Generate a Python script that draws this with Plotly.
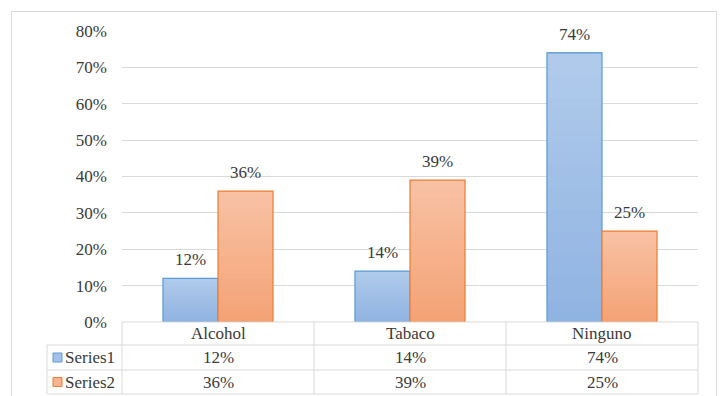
import plotly.graph_objects as go

# Data
categories = ["Alcohol", "Tabaco", "Ninguno"]
series_names = ["Series1", "Series2"]
series1 = [0.12, 0.14, 0.74]
series2 = [0.36, 0.39, 0.25]
y_ticks = [0, 0.1, 0.2, 0.3, 0.4, 0.5, 0.6, 0.7, 0.8]

W, H = 721, 396
PL, PR, PT, PB = 122, 698, 31, 322  # plot area in pixels
FONT = "'Times New Roman', 'Liberation Serif', 'DejaVu Serif', serif"
FS = 17
TXT = "#3a3a3a"
GRID = "#d9d9d9"

# gradient fills (bottom colour, top colour) and outline colour per series
grad = [("#8fb3e2", "#b1cbeb"), ("#f4a275", "#f8c2a5")]
fills = ["#a5c1e7", "#f6b491"]
edges = ["#5b9bd5", "#ed7d31"]
N_STEPS = 24


def px(xp):
    return (xp - PL) / (PR - PL)


def py(yp):
    return (PB - yp) / (PB - PT)


def hex_rgb(h):
    h = h.lstrip("#")
    return tuple(int(h[i:i + 2], 16) for i in (0, 2, 4))


def mix(c0, c1, t):
    a, b = hex_rgb(c0), hex_rgb(c1)
    return "rgb(%d,%d,%d)" % tuple(round(a[i] + (b[i] - a[i]) * t) for i in range(3))


fig = go.Figure()
values = [series1, series2]
for si, (name, vals) in enumerate(zip(series_names, values)):
    c_bot, c_top = grad[si]
    # vertical gradient: layered bars, each starting a little higher and
    # running to the top of the bar, so the slices never leave gaps
    for k in range(N_STEPS):
        t = (k + 0.5) / N_STEPS
        fig.add_trace(go.Bar(
            x=categories, y=[v * (1 - k / N_STEPS) for v in vals],
            base=[v * k / N_STEPS for v in vals],
            offsetgroup=str(si), name=name,
            marker=dict(color=mix(c_bot, c_top, t), line=dict(width=0)),
            hoverinfo="skip", showlegend=False,
        ))
    # outline
    fig.add_trace(go.Bar(
        x=categories, y=vals, offsetgroup=str(si), name=name,
        marker=dict(color="rgba(0,0,0,0)", line=dict(color=edges[si], width=1.2)),
        hoverinfo="skip", showlegend=False,
    ))

shapes = []
annotations = []

# value labels above the bars
n_series = len(values)
bar_px = 55
for si, vals in enumerate(values):
    offset = (si - (n_series - 1) / 2) * bar_px
    for c, v in zip(categories, vals):
        annotations.append(dict(
            x=c, y=v, xref="x", yref="y", text=f"{round(v * 100)}%",
            showarrow=False, xshift=offset, xanchor="center",
            yanchor="bottom", yshift=7,
            font=dict(family=FONT, size=FS, color=TXT),
        ))

# data table below the plot
line = dict(color=GRID, width=1)
row_y = [PB, 345, 370, 394]
col_w = (PR - PL) / len(categories)
col_x = [PL + i * col_w for i in range(len(categories) + 1)]
# horizontal rules
shapes.append(dict(type="line", xref="paper", yref="paper",
                   x0=px(PL), x1=px(PR), y0=py(row_y[0]), y1=py(row_y[0]), line=line))
for yy in row_y[1:]:
    shapes.append(dict(type="line", xref="paper", yref="paper",
                       x0=px(47), x1=px(PR), y0=py(yy), y1=py(yy), line=line))
# vertical rules
for xx in col_x:
    shapes.append(dict(type="line", xref="paper", yref="paper",
                       x0=px(xx), x1=px(xx), y0=py(row_y[0]), y1=py(row_y[-1]), line=line))
shapes.append(dict(type="line", xref="paper", yref="paper",
                   x0=px(47), x1=px(47), y0=py(row_y[1]), y1=py(row_y[-1]), line=line))

# header row: category names
for i, c in enumerate(categories):
    annotations.append(dict(
        x=px(col_x[i] + col_w / 2), y=py((row_y[0] + row_y[1]) / 2),
        xref="paper", yref="paper", text=c, showarrow=False,
        xanchor="center", yanchor="middle",
        font=dict(family=FONT, size=FS, color=TXT),
    ))
# series rows
for si, (name, vals) in enumerate(zip(series_names, values)):
    yc = (row_y[si + 1] + row_y[si + 2]) / 2
    shapes.append(dict(type="rect", xref="paper", yref="paper",
                       x0=px(53), x1=px(62), y0=py(yc - 4.5), y1=py(yc + 4.5),
                       fillcolor=fills[si], line=dict(color=edges[si], width=1)))
    annotations.append(dict(
        x=px(63), y=py(yc), xref="paper", yref="paper", text=name,
        showarrow=False, xanchor="left", yanchor="middle",
        font=dict(family=FONT, size=FS, color=TXT),
    ))
    for i, v in enumerate(vals):
        annotations.append(dict(
            x=px(col_x[i] + col_w / 2), y=py(yc), xref="paper", yref="paper",
            text=f"{round(v * 100)}%", showarrow=False,
            xanchor="center", yanchor="middle",
            font=dict(family=FONT, size=FS, color=TXT),
        ))

# outer chart border
shapes.append(dict(type="rect", xref="paper", yref="paper",
                   x0=px(11.5), x1=px(716.5), y0=py(400), y1=py(11.5),
                   line=dict(color=GRID, width=1), fillcolor="rgba(0,0,0,0)", layer="below"))

fig.update_layout(
    width=W, height=H,
    margin=dict(l=PL, r=W - PR, t=PT, b=H - PB, pad=0),
    paper_bgcolor="white", plot_bgcolor="white",
    barmode="group", bargap=0.427, bargroupgap=0,
    showlegend=False,
    font=dict(family=FONT, size=FS, color=TXT),
    xaxis=dict(showticklabels=False, showgrid=False, zeroline=False,
               showline=False, ticks="", fixedrange=True),
    yaxis=dict(range=[0, 0.8], tickvals=y_ticks, tickformat=".0%",
               showgrid=True, gridcolor=GRID, gridwidth=1, zeroline=False,
               showline=False, ticks="", ticklabelstandoff=14,
               tickfont=dict(family=FONT, size=FS, color=TXT), fixedrange=True),
    shapes=shapes, annotations=annotations,
)

fig.write_html("out.html", config={"displayModeBar": False})
